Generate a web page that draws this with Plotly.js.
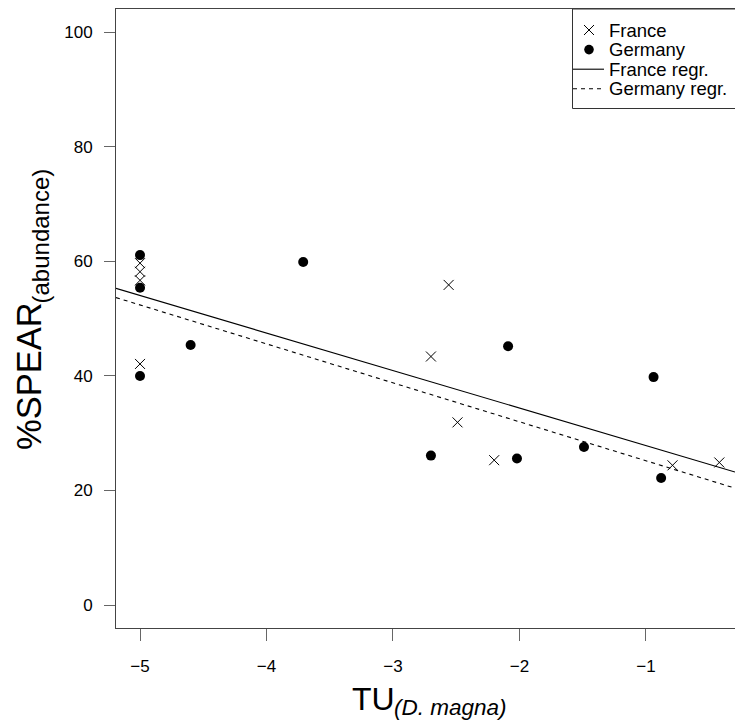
<!DOCTYPE html>
<html>
<head>
<meta charset="utf-8">
<script src="https://cdn.plot.ly/plotly-3.0.1.min.js"></script>
<style>html,body{margin:0;padding:0;background:#fff;}#chart{width:735px;height:724px;}</style>
</head>
<body>
<div id="chart"></div>
<script>
// France (crosses)
const franceX = [-5, -5, -5, -5, -2.56, -2.70, -2.49, -2.20, -0.79, -0.42];
const franceY = [59.7, 58.2, 56.7, 42.1, 55.9, 43.4, 31.9, 25.3, 24.4, 24.9];
// Germany (filled dots)
const germanyX = [-5, -5, -5, -4.60, -3.71, -2.09, -0.94, -2.70, -2.02, -1.49, -0.88];
const germanyY = [61.1, 55.4, 40.0, 45.4, 59.9, 45.2, 39.8, 26.1, 25.6, 27.6, 22.2];
// Regression lines (intercept, slope)
const regrNames = ['France regr.', 'Germany regr.'];
const regrIntercept = [21.3, 18.4];
const regrSlope = [-6.55, -6.80];
const regrDash = ['solid', '4px,4px'];
// Legend labels and key kinds
const legendLabels = ['France', 'Germany', 'France regr.', 'Germany regr.'];
const legendKinds = ['cross', 'dot', 'solid', '4px,4px'];
// Axis titles (main part + subscript)
const xTitleMain = 'TU', xTitleSub = '(D. magna)';
const yTitleMain = '%SPEAR', yTitleSub = '(abundance)';
// Axes
const xRange = [-5.19, -0.296];
const yRange = [-4, 104.07];
const xTicks = [-5, -4, -3, -2, -1];
const yTicks = [0, 20, 40, 60, 80, 100];

const FONT = 'Liberation Sans, Arial, Helvetica, sans-serif';

const traces = [
  {
    x: franceX, y: franceY, type: 'scatter', mode: 'markers', name: 'France',
    marker: {symbol: 'x-thin-open', size: 10, color: '#000', line: {color: '#000', width: 1}},
    cliponaxis: false
  },
  {
    x: germanyX, y: germanyY, type: 'scatter', mode: 'markers', name: 'Germany',
    marker: {symbol: 'circle', size: 10, color: '#000', line: {width: 0}},
    cliponaxis: false
  }
];
for (let i = 0; i < regrNames.length; i++) {
  traces.push({
    x: xRange,
    y: xRange.map(v => regrIntercept[i] + regrSlope[i] * v),
    type: 'scatter', mode: 'lines', name: regrNames[i],
    line: {color: '#000', width: 1.1, dash: regrDash[i]}
  });
}

const plotW = 735 - 116, plotH = 724 - 9 - 96;
const px2paperX = p => (p - 116) / plotW;
const px2paperY = p => 1 - (p - 9) / plotH;

const ann = (text, px, py, xanchor, size, extra) => Object.assign({
  text: text, xref: 'paper', yref: 'paper', showarrow: false,
  x: px2paperX(px), y: px2paperY(py), xanchor: xanchor, yanchor: 'middle',
  font: {family: FONT, size: size, color: '#000'}
}, extra || {});

// Legend (framed key in the top-right corner)
const legendTop = 30, rowH = 19.6, keyX = 589;
const rowY = i => legendTop + i * rowH;
const annotations = legendLabels.map((t, i) => ann(t, 607, rowY(i), 'left', 18.5));

// Axis titles with subscripts
annotations.push(ann(xTitleMain, 397, 698.5, 'right', 32));
annotations.push(ann(xTitleSub, 392, 707, 'left', 22.5, {font: {family: FONT, size: 22.5, color: '#000', style: 'italic'}}));
annotations.push(ann(yTitleMain, 28.5, 376.5, 'center', 34.5, {textangle: -90}));
annotations.push(ann(yTitleSub, 40, 236.5, 'center', 24, {textangle: -90}));

const shapes = [{
  type: 'rect', xref: 'paper', yref: 'paper',
  x0: px2paperX(572.5), x1: px2paperX(745), y0: px2paperY(108.5), y1: 1,
  line: {color: '#333', width: 1}, fillcolor: 'rgba(0,0,0,0)', layer: 'above'
}];
legendKinds.forEach((k, i) => {
  const cy = rowY(i);
  const P = (x0, y0, x1, y1) => ({x0: px2paperX(x0), y0: px2paperY(y0), x1: px2paperX(x1), y1: px2paperY(y1)});
  if (k === 'cross') {
    shapes.push(Object.assign({type: 'line', xref: 'paper', yref: 'paper', line: {color: '#000', width: 1}}, P(keyX - 5, cy - 5, keyX + 5, cy + 5)));
    shapes.push(Object.assign({type: 'line', xref: 'paper', yref: 'paper', line: {color: '#000', width: 1}}, P(keyX - 5, cy + 5, keyX + 5, cy - 5)));
  } else if (k === 'dot') {
    shapes.push(Object.assign({type: 'circle', xref: 'paper', yref: 'paper', fillcolor: '#000', line: {color: '#000', width: 0}}, P(keyX - 4.8, cy - 4.8, keyX + 4.8, cy + 4.8)));
  } else {
    shapes.push(Object.assign({type: 'line', xref: 'paper', yref: 'paper', line: {color: '#000', width: 1.1, dash: k}}, P(573, cy, 604, cy)));
  }
});

const layout = {
  width: 735, height: 724,
  margin: {l: 116, r: 0, t: 9, b: 96, autoexpand: false},
  paper_bgcolor: '#fff', plot_bgcolor: '#fff',
  font: {family: FONT, color: '#000', size: 17},
  showlegend: false,
  annotations: annotations,
  shapes: shapes,
  xaxis: {
    range: xRange, tickvals: xTicks, ticktext: xTicks.map(v => '\u2212' + Math.abs(v)),
    showgrid: false, zeroline: false,
    showline: true, mirror: true, linecolor: '#444', linewidth: 1,
    ticks: 'outside', ticklen: 12, tickcolor: '#666', tickwidth: 1,
    tickfont: {family: FONT, size: 17, color: '#000'},
    ticklabelstandoff: 11,
    automargin: false
  },
  yaxis: {
    range: yRange, tickvals: yTicks, ticktext: yTicks.map(String),
    showgrid: false, zeroline: false,
    showline: true, mirror: false, linecolor: '#444', linewidth: 1,
    ticks: 'outside', ticklen: 11, tickcolor: '#666', tickwidth: 1,
    tickfont: {family: FONT, size: 17, color: '#000'},
    ticklabelstandoff: 8,
    automargin: false
  }
};

Plotly.newPlot('chart', traces, layout, {displayModeBar: false, staticPlot: true});
</script>
</body>
</html>
